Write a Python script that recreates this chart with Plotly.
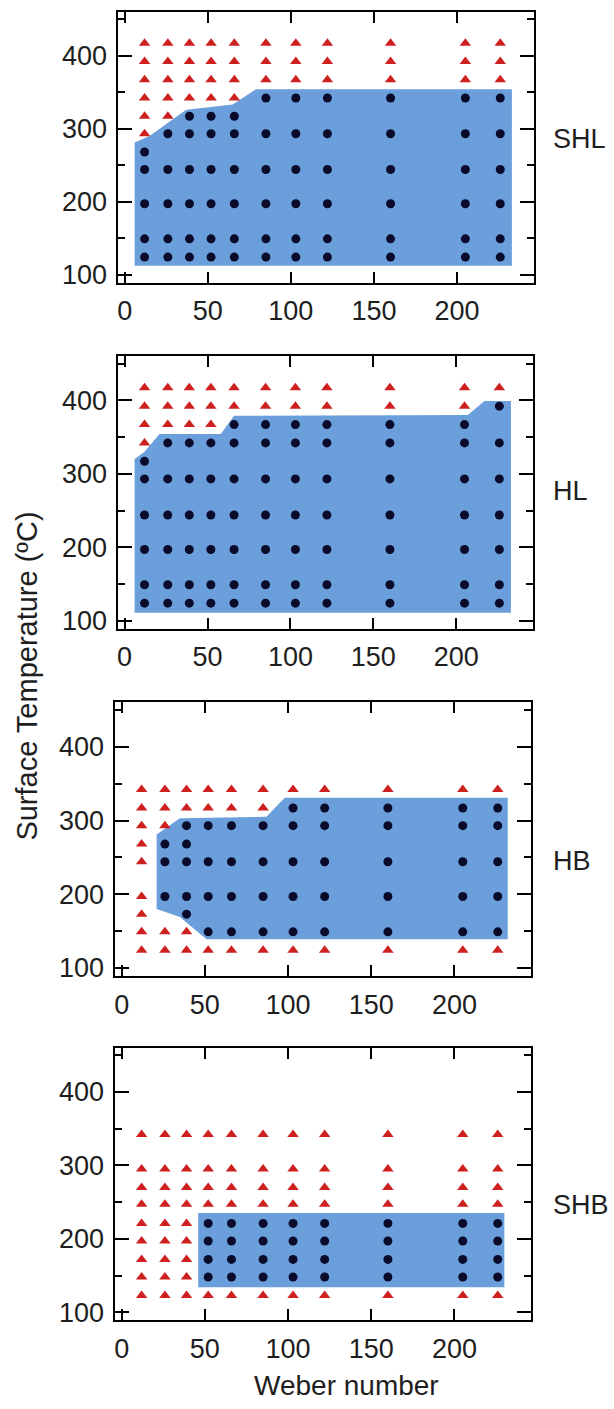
import plotly.graph_objects as go

W, H = 614, 1409

# Weber numbers of the measurement columns
WE = [12, 26, 39, 52, 66, 85, 103, 122, 160, 205, 226]

# ---- SHL ----
SHL_CIRCLES = [
    [124, 149, 197, 244, 268],
    [124, 149, 197, 244, 293],
    [124, 149, 197, 244, 293, 317],
    [124, 149, 197, 244, 293, 317],
    [124, 149, 197, 244, 293, 317],
    [124, 149, 197, 244, 293, 342],
    [124, 149, 197, 244, 293, 342],
    [124, 149, 197, 244, 293, 342],
    [124, 149, 197, 244, 293, 342],
    [124, 149, 197, 244, 293, 342],
    [124, 149, 197, 244, 293, 342],
]
SHL_TRIANGLES = [
    [293, 317, 342, 367, 392, 417],
    [317, 342, 367, 392, 417],
    [342, 367, 392, 417],
    [342, 367, 392, 417],
    [342, 367, 392, 417],
    [367, 392, 417],
    [367, 392, 417],
    [367, 392, 417],
    [367, 392, 417],
    [367, 392, 417],
    [367, 392, 417],
]
SHL_REGION_X = [6, 6, 15, 37, 65, 79, 233, 233]
SHL_REGION_Y = [112, 281, 290, 326, 333, 354, 354, 112]

# ---- HL ----
HL_CIRCLES = [
    [124, 149, 197, 244, 293, 317],
    [124, 149, 197, 244, 293, 342],
    [124, 149, 197, 244, 293, 342],
    [124, 149, 197, 244, 293, 342],
    [124, 149, 197, 244, 293, 342, 367],
    [124, 149, 197, 244, 293, 342, 367],
    [124, 149, 197, 244, 293, 342, 367],
    [124, 149, 197, 244, 293, 342, 367],
    [124, 149, 197, 244, 293, 342, 367],
    [124, 149, 197, 244, 293, 342, 367],
    [124, 149, 197, 244, 293, 342, 392],
]
HL_TRIANGLES = [
    [342, 367, 392, 417],
    [367, 392, 417],
    [367, 392, 417],
    [367, 392, 417],
    [392, 417],
    [392, 417],
    [392, 417],
    [392, 417],
    [392, 417],
    [392, 417],
    [417],
]
HL_REGION_X = [6, 6, 12, 21, 58, 66, 207, 217, 233, 233]
HL_REGION_Y = [111, 320, 330, 354, 354, 379, 380, 399, 399, 111]

# ---- HB ----
HB_CIRCLES = [
    [],
    [197, 244, 268],
    [173, 197, 244, 268, 293],
    [149, 197, 244, 293],
    [149, 197, 244, 293],
    [149, 197, 244, 293],
    [149, 197, 244, 293, 317],
    [149, 197, 244, 293, 317],
    [149, 197, 244, 293, 317],
    [149, 197, 244, 293, 317],
    [149, 197, 244, 293, 317],
]
HB_TRIANGLES = [
    [124, 149, 173, 197, 244, 268, 293, 317, 342],
    [124, 149, 293, 317, 342],
    [124, 149, 317, 342],
    [124, 317, 342],
    [124, 317, 342],
    [124, 317, 342],
    [124, 342],
    [124, 342],
    [124, 342],
    [124, 342],
    [124, 342],
]
HB_REGION_X = [21, 21, 35, 87, 98, 232, 232, 51, 35]
HB_REGION_Y = [180, 281, 303, 305, 331, 331, 139, 139, 169]

# ---- SHB ----
SHB_CIRCLES = [
    [], [], [],
    [148, 172, 197, 221],
    [148, 172, 197, 221],
    [148, 172, 197, 221],
    [148, 172, 197, 221],
    [148, 172, 197, 221],
    [148, 172, 197, 221],
    [148, 172, 197, 221],
    [148, 172, 197, 221],
]
SHB_TRIANGLES = [
    [123, 148, 172, 197, 221, 247, 270, 295, 342],
    [123, 148, 172, 197, 221, 247, 270, 295, 342],
    [123, 148, 172, 197, 221, 247, 270, 295, 342],
    [123, 247, 270, 295, 342],
    [123, 247, 270, 295, 342],
    [123, 247, 270, 295, 342],
    [123, 247, 270, 295, 342],
    [123, 247, 270, 295, 342],
    [123, 247, 270, 295, 342],
    [123, 247, 270, 295, 342],
    [123, 247, 270, 295, 342],
]
SHB_REGION_X = [46, 46, 230, 230]
SHB_REGION_Y = [134, 235, 235, 134]

PANEL_NAMES = ["SHL", "HL", "HB", "SHB"]
X_TICKS = [0, 50, 100, 150, 200]
Y_TICKS = [100, 200, 300, 400]
X_RANGE = [-4.3, 246]
Y_RANGE = [89, 460]

# pixel boxes of the plot frames (left, right, top, bottom)
BOXES = [
    (117.5, 533.5, 12, 284),
    (117.5, 532.5, 358, 632),
    (114.5, 531.0, 706, 981),
    (114.5, 531.0, 1053, 1327),
]
LABEL_Y = [140, 493, 865, 1211]

FONT = "Liberation Sans, Arial, Helvetica, sans-serif"
BLUE = "#6b9fdc"
DOT = "#0a0a2a"
RED = "#cf2020"
TXT = "#1e1e1e"

panels = [
    (SHL_CIRCLES, SHL_TRIANGLES, SHL_REGION_X, SHL_REGION_Y),
    (HL_CIRCLES, HL_TRIANGLES, HL_REGION_X, HL_REGION_Y),
    (HB_CIRCLES, HB_TRIANGLES, HB_REGION_X, HB_REGION_Y),
    (SHB_CIRCLES, SHB_TRIANGLES, SHB_REGION_X, SHB_REGION_Y),
]

fig = go.Figure()
annotations = []

for i, (circ, tri, rx, ry) in enumerate(panels):
    n = i + 1
    xa = "x" if n == 1 else f"x{n}"
    ya = "y" if n == 1 else f"y{n}"
    fig.add_trace(go.Scatter(
        x=rx + [rx[0]], y=ry + [ry[0]], xaxis=xa, yaxis=ya,
        mode="lines", fill="toself", fillcolor=BLUE,
        line=dict(width=0, color=BLUE), hoverinfo="skip"))
    cx, cy, tx, ty = [], [], [], []
    for we, cs, ts in zip(WE, circ, tri):
        cx += [we] * len(cs)
        cy += cs
        tx += [we] * len(ts)
        ty += ts
    fig.add_trace(go.Scatter(
        x=tx, y=ty, xaxis=xa, yaxis=ya, mode="markers",
        marker=dict(symbol="triangle-up", size=10, color=RED,
                    line=dict(width=0))))
    fig.add_trace(go.Scatter(
        x=cx, y=cy, xaxis=xa, yaxis=ya, mode="markers",
        marker=dict(symbol="circle", size=9, color=DOT,
                    line=dict(width=0))))

    l, r, t, b = BOXES[i]
    xkey = "xaxis" if n == 1 else f"xaxis{n}"
    ykey = "yaxis" if n == 1 else f"yaxis{n}"
    fig.layout[xkey] = dict(
        domain=[l / W, r / W], anchor=ya, range=X_RANGE,
        tickvals=X_TICKS, ticktext=[str(v) for v in X_TICKS],
        ticks="inside", ticklen=11, tickwidth=2, tickcolor="black",
        ticklabelstandoff=3,
        showline=True, linewidth=2, linecolor="black", mirror="ticks",
        showgrid=False, zeroline=False,
        tickfont=dict(family=FONT, size=27, color=TXT))
    fig.layout[ykey] = dict(
        domain=[1 - b / H, 1 - t / H], anchor=xa, range=Y_RANGE,
        tickvals=Y_TICKS, ticktext=[str(v) for v in Y_TICKS],
        ticks="inside", ticklen=14, tickwidth=2, tickcolor="black",
        ticklabelstandoff=3,
        minor=dict(dtick=50, tick0=0, ticks="inside", ticklen=7,
                   tickwidth=2, tickcolor="black", showgrid=False),
        showline=True, linewidth=2, linecolor="black", mirror="ticks",
        showgrid=False, zeroline=False,
        tickfont=dict(family=FONT, size=27, color=TXT))
    annotations.append(dict(
        text=PANEL_NAMES[i], xref="paper", yref="paper",
        x=551 / W, y=1 - LABEL_Y[i] / H, xanchor="left", yanchor="middle",
        showarrow=False, font=dict(family=FONT, size=27, color=TXT)))

annotations.append(dict(
    text="Surface Temperature (ºC)", xref="paper", yref="paper",
    x=27 / W, y=1 - 680 / H, xanchor="center", yanchor="middle",
    textangle=-90, showarrow=False,
    font=dict(family=FONT, size=29, color=TXT)))
annotations.append(dict(
    text="Weber number", xref="paper", yref="paper",
    x=346 / W, y=1 - 1392 / H, xanchor="center", yanchor="middle",
    showarrow=False, font=dict(family=FONT, size=28, color=TXT)))

fig.update_layout(
    width=W, height=H, margin=dict(l=0, r=0, t=0, b=0),
    paper_bgcolor="white", plot_bgcolor="white",
    showlegend=False, annotations=annotations)

fig.write_html("out.html")
